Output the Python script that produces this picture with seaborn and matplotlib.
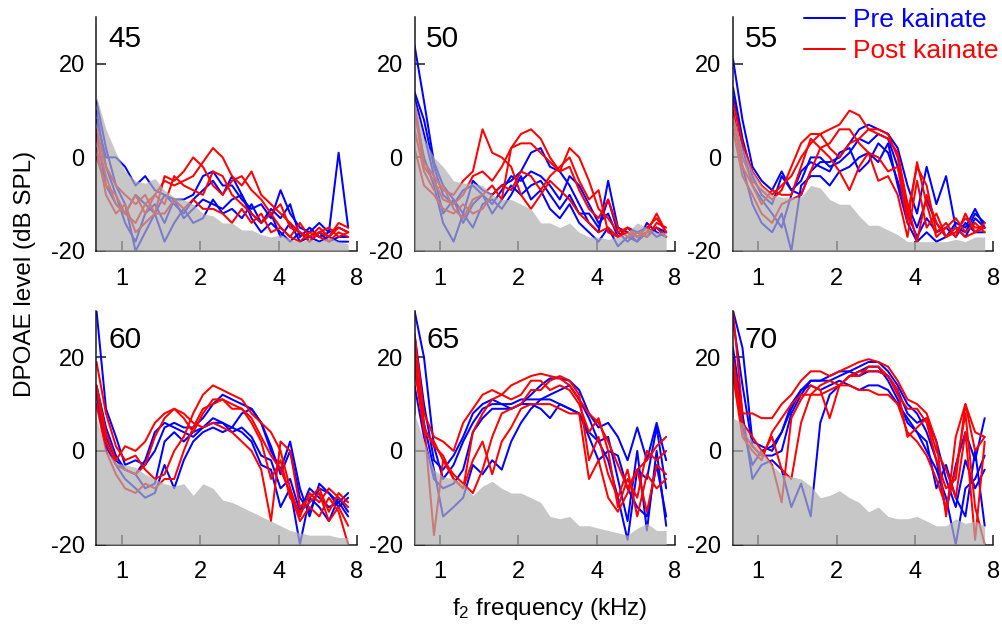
import matplotlib
matplotlib.use("Agg")
import matplotlib.pyplot as plt
from matplotlib.lines import Line2D
from matplotlib.ticker import NullLocator
import pandas as pd
import seaborn as sns

# f2 frequencies (kHz) shared by every trace
FREQ_KHZ = [0.80, 0.87, 0.95, 1.03, 1.13, 1.23, 1.34, 1.46, 1.59, 1.73, 1.88, 2.05, 2.24, 2.44,
            2.65, 2.89, 3.15, 3.43, 3.74, 4.07, 4.43, 4.83, 5.26, 5.73, 6.24, 6.80, 7.40]

# Stimulus levels (dB SPL), one panel each
LEVELS = [45, 50, 55, 60, 65, 70]

# ---- 45 dB ----
FLOOR_45 = [13, 6, 1, -3, -5, -5.5, -4.5, -7, -8.5, -9, -10, -12, -12.5, -14, -14, -15.5, -15.5, -16.5, -17, -16.5, -17.5, -18, -17.5, -18, -17, -18, -18.5]
PRE_45 = [
    [8, 0, 0, -2, -6, -4, -7, -8, -9, -9, -8, -4, -3, -6, -6, -9, -11, -10, -13, -7, -12, -15, -16, -14, -16, 1, -15],
    [5, -6, -10, -12, -8, -10, -12, -8, -10, -12, -9, -7, -5, -8, -4, -8, -12, -14, -11, -13, -10, -17, -15, -17, -16, -15, -16],
    [10, -2, -8, -14, -18, -12, -10, -14, -9, -13, -11, -9, -10, -11, -9, -8, -13, -16, -14, -16, -18, -16, -18, -16, -18, -17, -17],
    [12, 2, -6, -10, -20, -16, -12, -18, -14, -11, -14, -13, -9, -12, -11, -13, -10, -14, -12, -17, -14, -18, -17, -18, -17, -18, -18],
]
POST_45 = [
    [4, -4, -10, -12, -8, -12, -8, -5, -6, -5, -4, -1, 2, 0, -4, -6, -3, -8, -10, -12, -14, -16, -17, -15, -17, -15, -16],
    [6, -2, -6, -8, -10, -8, -12, -4, -5, -3, 0, -2, -6, -8, -5, -4, -7, -9, -12, -10, -15, -16, -18, -16, -17, -14, -15],
    [0, -6, -8, -12, -14, -10, -8, -10, -4, -6, -7, -8, -3, -4, -8, -10, -12, -14, -12, -15, -17, -14, -17, -16, -15, -17, -16],
    [2, -8, -12, -10, -16, -14, -12, -12, -9, -11, -9, -11, -11, -12, -14, -11, -14, -12, -16, -15, -17, -18, -16, -17, -18, -16, -17],
]

# ---- 50 dB ----
FLOOR_50 = [12, 4, 0, -2, -5, -5.5, -5.5, -6, -8, -9, -9, -10, -11, -14, -14, -15, -14, -16, -17, -17, -17.5, -17, -16, -14, -15, -16, -16]
PRE_50 = [
    [24, 12, -1, -6, -9, -12, -5, -7, -8, -6, -5, -3, 1, 2, -2, -3, -6, -10, -14, -16, -5, -15, -16, -18, -14, -16, -17],
    [14, 8, -2, -8, -10, -7, -6, -8, -10, -7, -4, -5, -3, -4, -6, -9, -4, -6, -10, -14, -12, -17, -15, -16, -17, -15, -16],
    [13, 5, -4, -12, -9, -14, -10, -8, -12, -9, -6, -8, -6, -5, -8, -11, -8, -12, -12, -15, -9, -16, -18, -16, -15, -17, -16],
    [10, 0, -6, -14, -18, -12, -15, -10, -9, -11, -8, -4, -9, -7, -11, -13, -10, -14, -16, -18, -15, -19, -17, -18, -16, -15, -17],
]
POST_50 = [
    [12, -1, -4, -7, -8, -5, -3, 6, 1, 0, -2, -8, -11, -8, -5, -7, -9, -12, -14, -16, -15, -17, -16, -17, -15, -13, -16],
    [10, -2, -5, -9, -10, -8, -4, -3, -5, -2, 2, 5, 6, 4, 0, -3, -2, -7, -11, -13, -9, -15, -17, -16, -17, -14, -15],
    [6, -3, -7, -6, -11, -13, -9, -8, -6, -9, 2, 3, 3, 1, -1, -3, 2, 0, -5, -11, -13, -16, -15, -17, -16, -15, -17],
    [2, -6, -8, -11, -12, -10, -12, -11, -8, -6, -7, -3, -4, -7, -4, -2, 0, -5, -9, -7, -16, -17, -15, -17, -16, -12, -16],
]

# ---- 55 dB ----
FLOOR_55 = [9, 2, -3, -6, -8, -8.5, -8.5, -8.5, -6, -6.5, -9, -10, -10, -12.5, -14.5, -14.5, -15.5, -16.5, -18, -18, -18, -18, -18, -17.5, -18, -17, -17]
PRE_55 = [
    [21, 8, -2, -5, -7, -3, -7, -8, -3, -1, -1, 0, 3, 6, 7, 6, 5, 2, -6, -12, -2, -10, -4, -15, -16, -12, -14],
    [15, 4, -4, -8, -10, -4, -7, -5, 0, 0, -2, -1, 1, 4, 3, 5, 4, -2, -10, -15, -9, -14, -17, -14, -15, -11, -15],
    [13, 2, -6, -9, -12, -15, -8, -3, -1, -2, -3, 1, 2, -3, -1, 3, 1, -5, -12, -17, -13, -16, -15, -17, -14, -16, -16],
    [10, -2, -10, -14, -16, -12, -20, -6, -4, -4, -6, -3, -2, 0, 1, -1, 3, -6, -14, -18, -16, -18, -17, -15, -17, -13, -15],
]
POST_55 = [
    [12, 3, -3, -6, -8, -6, -4, 0, 3, 5, 6, 7, 10, 9, 6, 5, 4, 1, -10, -18, -8, -14, -17, -16, -13, -15, -15],
    [10, 0, -5, -7, -9, -7, -2, 3, 5, 5, 2, 0, 3, 4, 6, 6, 5, 0, -12, -2, -6, -16, -14, -17, -12, -16, -14],
    [8, -2, -6, -10, -7, -8, -8, -2, 4, 2, 0, -3, -7, -2, 1, 0, -3, -2, -14, -1, -10, -17, -15, -13, -16, -14, -16],
    [6, -4, -8, -12, -14, -10, -9, -8, -3, 2, 3, 6, 6, 3, 1, -5, -4, -8, -17, -5, -15, -12, -17, -15, -17, -16, -15],
]

# ---- 60 dB ----
FLOOR_60 = [7, 0, -2.5, -3, -3.5, -5, -6, -7, -7.5, -7, -9.5, -7, -8, -10.5, -11, -12, -13, -14, -15, -16, -17, -17.5, -18, -18, -18, -18.5, -18.5]
PRE_60 = [
    [30, 9, 3, -3, -2, -3, 0, 5, 6, 5, 5, 7, 10, 12, 11, 10, 9, 6, 0, -4, 2, -8, -14, -7, -9, -11, -9],
    [14, 5, -1, -4, -5, -2, 4, 6, 5, 4, 3, 5, 6, 6, 5, 8, 9, 6, 1, -5, 0, -10, -13, -8, -9, -12, -10],
    [13, 3, -2, -4, -5, -8, -7, 2, 4, 2, 4, 5, 7, 6, 4, 5, 3, -1, -2, -8, -6, -13, -8, -10, -12, -11, -14],
    [12, 1, -3, -6, -8, -10, -9, -3, -8, -2, 2, 4, 5, 4, 5, 4, 2, -3, -4, -12, -8, -20, -10, -12, -15, -10, -13],
]
POST_60 = [
    [19, 8, 1, -2, -1, -4, -6, -5, 0, 3, 8, 12, 14, 13, 12, 11, 8, 6, 4, 0, -8, -14, -9, -11, -8, -10, -12],
    [14, 4, -2, 1, 0, 2, 6, 8, 9, 8, 6, 5, 6, 5, 4, 2, 0, -4, -15, 2, 0, -12, -10, -8, -13, -9, -11],
    [13, 2, -3, -4, -5, -3, 3, 7, 9, 7, 4, 8, 11, 11, 10, 9, 6, 2, -6, -2, -10, -13, -11, -9, -15, -12, -16],
    [10, 0, -5, -8, -9, -7, -8, -6, -6, 0, 5, 9, 10, 11, 9, 9, 7, 3, -1, -4, -9, -15, -12, -14, -10, -13, -20],
]

# ---- 65 dB ----
FLOOR_65 = [8, 2, -4, -5.5, -6, -7, -9.5, -7.5, -6.5, -8, -9, -9, -10, -11, -14, -14.5, -14, -16, -16, -16.5, -17, -17.5, -18, -16.5, -15.5, -17, -17]
PRE_65 = [
    [30, 20, 1, -6, -3, 2, 6, 9, 10, 10, 9, 10, 12, 14, 15.5, 15.5, 15, 13, 8, 5, 6, 3, -2, 5, -2, 6, -2],
    [25, 10, -2, -4, -1, 3, 8, 10, 11, 10, 10, 11, 11, 11, 11, 10, 9, 8, 4, 2, 3, -6, -15, 0, -17, 0, -16],
    [18, 6, -4, -14, -12, -10, -3, -5, -2, -4, 2, 6, 9, 11, 12, 13, 14, 11, 7, 2, -2, -10, -19, -4, -6, 5, -8],
    [14, 3, -6, -8, -7, -4, 4, 7, 9, 9, 9, 10, 10, 9, 7, 10, 9, 8, 3, -2, 0, -1, -8, -12, -14, -3, -14],
]
POST_65 = [
    [25, 8, 3, 2, 0, 6, 9, 12, 13, 12, 14, 15, 16, 16.5, 16, 15.5, 14, 11, 8, 6, 2, -3, -8, -4, -2, 1, 3],
    [22, 5, 1, -1, -6, -8, 4, 8, 11, 12, 11, 12, 15, 15, 13, 14, 13, 10, 4, 7, 0, -12, -6, -10, 0, -2, 0],
    [20, 6, -18, -2, -5, -7, -9, -4, 3, 8, 9, 10, 13, 13, 15, 16, 15, 12, -2, 3, -5, -10, -4, -14, -5, -8, -6],
    [18, 4, 2, -2, -6, -8, -2, 2, -5, 2, 5, 9, 10, 10, 10, 9, 8, 8, -6, -2, -10, -13, -9, -4, -13, -3, -5],
]

# ---- 70 dB ----
FLOOR_70 = [7, 6, 2, 0, -3, -5, -5.5, -6, -7.5, -10, -9.5, -8.5, -10, -11, -13, -12, -14, -14.5, -14.5, -14, -15, -16, -16, -14.5, -15.5, -15, -16]
PRE_70 = [
    [30, 22, 2, 1, 0, 4, 9, 13, 15, 15, 16, 17, 17, 18, 19, 19, 17, 14, 10, 8, 4, -2, -13, -3, 4, -2, 7],
    [28, 14, 1, -1, -1, 0, 8, 12, 15, 15, 15, 16, 17, 16, 17, 17, 16, 13, 8, 6, 7, 2, -6, -12, -2, -8, -4],
    [22, 8, -6, -3, -2, -4, -12, -7, -14, 6, 12, 14, 16, 17, 18, 18, 15, 11, 6, 4, 0, -4, -10, -20, -8, -6, -1],
    [18, 5, -3, 0, 1, 4, 10, 13, 14, 13, 14, 15, 14, 13, 14, 14, 13, 10, 7, 4, 2, -8, -3, -10, -14, 0, -16],
]
POST_70 = [
    [30, 8, 8, 7, 7, 10, 12, 15, 17, 17, 16, 17, 18, 19, 19.6, 19, 18, 15, 11, 10, 8, 2, -14, 3, 10, 4, 3],
    [20, 6, 3, 0, -3, -11, 7, 11, 14, 13, 7, 14, 16, 17, 17, 17, 16, 12, 9, 9, 6, -2, -8, -6, 10, 0, 3],
    [18, 4, 1, -1, 3, -4, -6, 6, 12, 14, 15, 14, 16, 16, 18, 18, 16, 13, 3, 5, 7, 0, -4, -10, 4, -19, 2],
    [16, 3, 0, -2, 4, 7, 10, 12, 12, 12, 13, 14, 14, 13, 13, 12, 12, 10, 4, 2, -1, -6, -12, -4, 8, -12, -20],
]

CONDITIONS = ["Pre kainate", "Post kainate"]
PALETTE = {"Pre kainate": "#0000ff", "Post kainate": "#ff0000"}

PANELS = [
    (45, FLOOR_45, PRE_45, POST_45),
    (50, FLOOR_50, PRE_50, POST_50),
    (55, FLOOR_55, PRE_55, POST_55),
    (60, FLOOR_60, PRE_60, POST_60),
    (65, FLOOR_65, PRE_65, POST_65),
    (70, FLOOR_70, PRE_70, POST_70),
]

# Long-form table: one row per (panel, condition, ear, frequency)
rows = []
for level, floor, pre, post in PANELS:
    for cond, traces in zip(CONDITIONS, (pre, post)):
        for i, trace in enumerate(traces):
            for f, v in zip(FREQ_KHZ, trace):
                rows.append({"level": level, "condition": cond, "ear": f"{cond} {i}",
                             "freq": f, "dpoae": v})
df = pd.DataFrame(rows)

sns.set_style("ticks")
plt.rcParams["font.family"] = ["Liberation Sans", "DejaVu Sans"]
plt.rcParams["mathtext.default"] = "regular"
plt.rcParams["axes.unicode_minus"] = False
plt.rcParams["text.color"] = "black"
plt.rcParams["axes.labelcolor"] = "black"

W, H = 1003, 626
fig = plt.figure(figsize=(W / 100, H / 100), dpi=100)

COL_LEFT = [96.5, 414.5, 733.0]
ROW_BOTTOM = [251.0, 544.5]
AX_W, AX_H = 260.5, 234.0
LABEL_Y = [0.872, 0.840]
INK = "#1a1a1a"
FS = 17.5

for k, (level, floor, pre, post) in enumerate(PANELS):
    r, c = divmod(k, 3)
    ax = fig.add_axes([COL_LEFT[c] / W, 1 - ROW_BOTTOM[r] / H, AX_W / W, AX_H / H])
    sub = df[df["level"] == level]
    sns.lineplot(data=sub, x="freq", y="dpoae", hue="condition", hue_order=CONDITIONS,
                 units="ear", estimator=None, palette=PALETTE, lw=1.45, legend=False,
                 ax=ax, sort=False)
    # noise floor, laid semi-opaque over the traces
    ax.fill_between(FREQ_KHZ, -20, floor, color="#b0b0b0", alpha=0.7, lw=0, zorder=3)

    ax.set_xscale("log")
    ax.set_xlim(0.8, 8)
    ax.set_ylim(-20, 30)
    ax.set_xticks([1, 2, 4, 8])
    ax.set_xticklabels(["1", "2", "4", "8"])
    ax.xaxis.set_minor_locator(NullLocator())
    ax.set_yticks([-20, 0, 20])
    ax.set_xlabel("")
    ax.set_ylabel("")
    ax.tick_params(direction="in", length=7.2, width=1.1, color=INK, labelsize=17,
                   labelcolor="black")
    ax.tick_params(axis="x", pad=12)
    ax.tick_params(axis="y", pad=8.5)
    for side in ("top", "right"):
        ax.spines[side].set_visible(False)
    for side in ("left", "bottom"):
        ax.spines[side].set_color(INK)
        ax.spines[side].set_linewidth(1.1)
    ax.text(0.045, LABEL_Y[r], str(level), transform=ax.transAxes, fontsize=21.5,
            color="black", va="baseline", ha="left", zorder=5)

fig.text(25 / W, 1 - 274 / H, "DPOAE level (dB SPL)", rotation=90, fontsize=FS,
         color="black", ha="center", va="center")
fig.text(550 / W, 1 - 615 / H, "f$_2$ frequency (kHz)", fontsize=FS,
         color="black", ha="center", va="baseline")

handles = [Line2D([], [], color=PALETTE[c], lw=1.45) for c in CONDITIONS]
leg = fig.legend(handles, CONDITIONS, loc="upper right",
                 bbox_to_anchor=(999 / W, 1 - 8 / H), frameon=False, fontsize=19,
                 handlelength=1.55, handletextpad=0.33, labelspacing=0.28,
                 borderpad=0, borderaxespad=0)
for txt, c in zip(leg.get_texts(), CONDITIONS):
    txt.set_color(PALETTE[c])

fig.savefig("out.png", dpi=100)
